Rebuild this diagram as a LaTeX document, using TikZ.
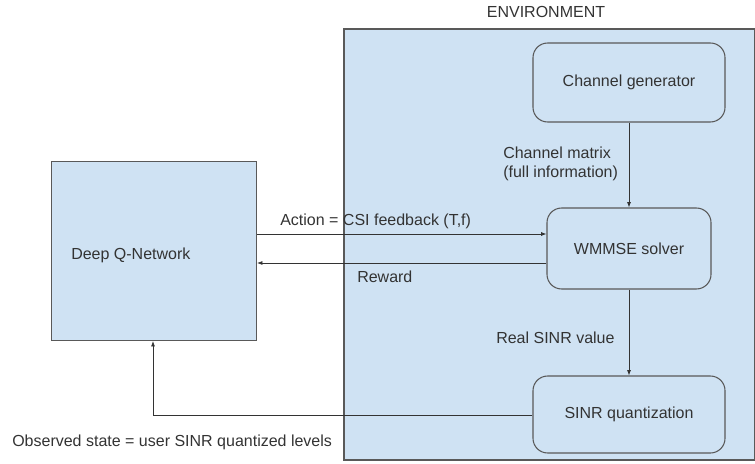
\documentclass[tikz,border=0pt]{standalone}
\usepackage{fontspec}
\setmainfont{Liberation Sans}
\usetikzlibrary{arrows.meta,calc}
\definecolor{boxfill}{HTML}{CFE2F3}
\definecolor{boxline}{HTML}{595959}
\definecolor{txt}{HTML}{333333}
\begin{document}
\begin{tikzpicture}[x=0.75pt,y=-0.75pt,
  every node/.style={font=\fontsize{12}{14.5}\selectfont, text=txt},
  envbox/.style={draw=boxline, fill=boxfill, line width=0.8pt, inner sep=0pt},
  procbox/.style={draw=boxline, fill=boxfill, line width=0.8pt, rounded corners=11pt},
  arr/.style={draw=black!80, line width=0.6pt, -{Latex[length=4pt,width=3pt]}},
  lbl/.style={anchor=west, inner sep=0pt, align=left}]
\useasboundingbox (0,0) rectangle (755,463);
% environment
\node[envbox, minimum width=307.9pt, minimum height=323.25pt] (env) at (549.25,244.5) {};
\node[inner sep=0pt] (envt) at (546,12) {ENVIRONMENT};
% DQN
\node[envbox, anchor=north west, minimum width=153.75pt, minimum height=134.25pt] (dqn) at (51,161) {};
\node[lbl] (dqnt) at (71,255) {Deep Q-Network};
% processes
\node[procbox, minimum width=144pt, minimum height=59.25pt] (gen) at (629,82.5) {Channel generator};
\node[procbox, minimum width=123pt, minimum height=60.75pt] (wm) at (629,248.5) {WMMSE solver};
\node[procbox, minimum width=144pt, minimum height=57.75pt] (sq) at (629,414.5) {SINR quantization};
% connectors
\draw[arr] (gen.south) -- (wm.north);
\draw[arr] (wm.south) -- (sq.north);
\draw[arr] (dqn.east |- 0,234) -- (wm.west |- 0,234);
\draw[arr] (wm.west |- 0,263) -- (dqn.east |- 0,263);
\coordinate (corner) at (153,415);
\draw[arr] (sq.west |- corner) -- (corner) -- (dqn.south -| corner);
% labels
\node[lbl] (l1) at (503,164) {Channel matrix\\(full information)};
\node[lbl] (l2) at (280,221) {Action = CSI feedback (T,f)};
\node[lbl] (l3) at (357,277) {Reward};
\node[lbl] (l4) at (496,338) {Real SINR value};
\node[lbl] (l5) at (12,442) {Observed state = user SINR quantized levels};
\end{tikzpicture}
\end{document}
